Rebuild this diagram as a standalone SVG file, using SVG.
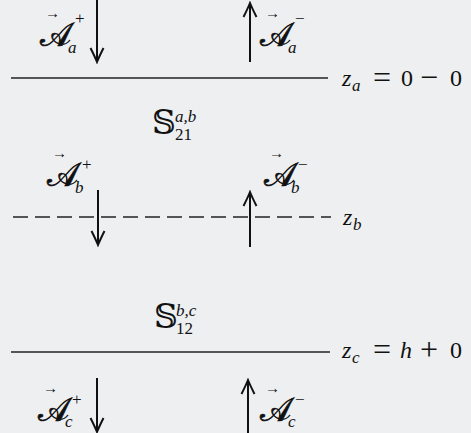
<svg xmlns="http://www.w3.org/2000/svg" width="471" height="433" viewBox="0 0 471 433">
<style>
.m{font-family:"Liberation Serif","DejaVu Serif",serif;fill:#111}
.A{font-family:"DejaVu Serif","DejaVu Sans","Noto Sans",serif;font-size:33px;stroke:#111;stroke-width:0.7}
.S{font-family:"DejaVu Serif","DejaVu Sans",serif;font-size:33px}
.i{font-style:italic}
.big{font-size:24px}
.op{font-size:32px}
.sub{font-size:17px}
.vec{font-size:15px}
.ln{stroke:#222;stroke-width:1.4;fill:none}
.dash{stroke-dasharray:15 7}
.ar{stroke:#111;stroke-width:2;fill:none;marker-end:url(#h)}
</style>
<defs>
<marker id="h" viewBox="-16 -8 18 16" markerWidth="18" markerHeight="16" refX="0" refY="0" orient="auto" markerUnits="userSpaceOnUse">
<path d="M-14,-6.5 Q-5,-2 0,0 Q-5,2 -14,6.5" fill="none" stroke="#111" stroke-width="2"/>
</marker>
</defs>
<rect width="471" height="433" fill="#edeff1"/>
<g id="connectors">
<line class="ln" x1="11" y1="78" x2="328" y2="78"/>
<line class="ln dash" x1="13" y1="217" x2="331" y2="217"/>
<line class="ln" x1="11" y1="352" x2="330" y2="352"/>
<line class="ar" x1="97" y1="0" x2="97" y2="62"/>
<line class="ar" x1="250" y1="62" x2="250" y2="3"/>
<line class="ar" x1="98" y1="190" x2="98" y2="245"/>
<line class="ar" x1="250" y1="247" x2="250" y2="192"/>
<line class="ar" x1="97" y1="378" x2="97" y2="432"/>
<line class="ar" x1="248" y1="433" x2="248" y2="380"/>
</g>
<g id="Aa_plus">
<text class="m A" x="40" y="46">𝒜</text><text class="m vec" x="45" y="18">→</text>
<text class="m sub i" x="68" y="53">a</text><text class="m sub" x="75" y="24">+</text>
</g>
<g id="Aa_minus">
<text class="m A" x="260" y="46">𝒜</text><text class="m vec" x="265" y="18">→</text>
<text class="m sub i" x="288" y="53">a</text><text class="m sub" x="295" y="24">−</text>
</g>
<g id="za">
<text class="m big i" x="342" y="86">z</text><text class="m sub i" x="352" y="91">a</text>
<text class="m op" x="373" y="88">=</text><text class="m big" x="401" y="86">0</text>
<text class="m op" x="420" y="88">−</text><text class="m big" x="450" y="86">0</text>
</g>
<g id="S21">
<text class="m S" x="152" y="134">𝕊</text>
<text class="m sub" x="175" y="140">21</text><text class="m sub i" x="175" y="122">a,b</text>
</g>
<g id="Ab_plus">
<text class="m A" x="47" y="186">𝒜</text><text class="m vec" x="52" y="158">→</text>
<text class="m sub i" x="75" y="193">b</text><text class="m sub" x="82" y="170">+</text>
</g>
<g id="Ab_minus">
<text class="m A" x="264" y="186">𝒜</text><text class="m vec" x="269" y="158">→</text>
<text class="m sub i" x="291" y="193">b</text><text class="m sub" x="298" y="170">−</text>
</g>
<g id="zb">
<text class="m big i" x="343" y="225">z</text><text class="m sub i" x="353" y="230">b</text>
</g>
<g id="S12">
<text class="m S" x="154" y="328">𝕊</text>
<text class="m sub" x="176" y="334">12</text><text class="m sub i" x="176" y="316">b,c</text>
</g>
<g id="zc">
<text class="m big i" x="342" y="358">z</text><text class="m sub i" x="352" y="363">c</text>
<text class="m op" x="373" y="360">=</text><text class="m big i" x="400" y="358">h</text>
<text class="m op" x="420" y="360">+</text><text class="m big" x="450" y="358">0</text>
</g>
<g id="Ac_plus">
<text class="m A" x="38" y="421">𝒜</text><text class="m vec" x="43" y="393">→</text>
<text class="m sub i" x="65" y="427">c</text><text class="m sub" x="72" y="405">+</text>
</g>
<g id="Ac_minus">
<text class="m A" x="260" y="421">𝒜</text><text class="m vec" x="265" y="393">→</text>
<text class="m sub i" x="288" y="427">c</text><text class="m sub" x="295" y="405">−</text>
</g>
</svg>
